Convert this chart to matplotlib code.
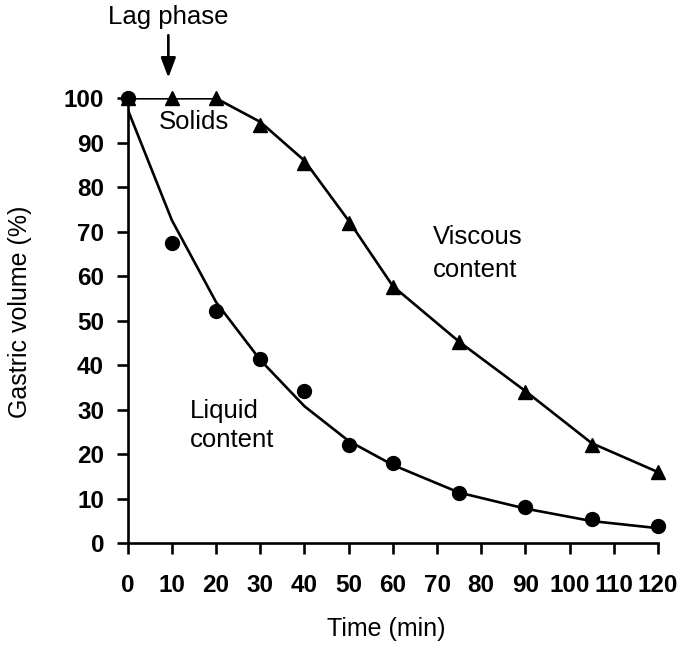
import matplotlib
matplotlib.use("Agg")
import matplotlib.pyplot as plt

plt.rcParams['font.family'] = ['Liberation Sans', 'DejaVu Sans']

# time points (min)
time_min = [0, 10, 20, 30, 40, 50, 60, 75, 90, 105, 120]

# measured gastric volume (%)
liquid_obs = [100, 67.4, 52.2, 41.4, 34.3, 22.0, 18.0, 11.3, 8.2, 5.4, 3.8]
viscous_obs = [100, 100, 100, 94.0, 85.4, 72.0, 57.5, 45.2, 34.0, 22.0, 16.0]

# fitted curves (%)
liquid_fit = [97.5, 72.6, 54.2, 41.2, 30.8, 23.0, 17.6, 11.4, 7.8, 5.0, 3.4]
viscous_fit = [100, 100, 100, 94.7, 86.0, 72.5, 57.8, 45.3, 34.2, 22.5, 16.0]

x_ticks = list(range(0, 121, 10))
y_ticks = list(range(0, 101, 10))

fig = plt.figure(figsize=(6.85, 6.52), dpi=100)
ax = fig.add_axes([0.1864, 0.1667, 0.7742, 0.6825])

ax.plot(time_min, viscous_fit, color="black", lw=1.9, zorder=2)
ax.plot(time_min, liquid_fit, color="black", lw=1.9, zorder=2)
ax.plot(time_min, viscous_obs, ls="none", marker="^", ms=9.5,
        color="black", clip_on=False, zorder=3)
ax.plot(time_min, liquid_obs, ls="none", marker="o", ms=10,
        color="black", clip_on=False, zorder=4)

ax.set_xlim(0, 120)
ax.set_ylim(0, 100)
ax.set_xticks(x_ticks)
ax.set_yticks(y_ticks)

for side in ["top", "right"]:
    ax.spines[side].set_visible(False)
for side in ["left", "bottom"]:
    ax.spines[side].set_linewidth(1.9)

ax.tick_params(axis="both", direction="out", length=8, width=1.9)
ax.tick_params(axis="x", pad=14)
ax.tick_params(axis="y", pad=9)
for lab in ax.get_xticklabels() + ax.get_yticklabels():
    lab.set_fontsize(17.5)
    lab.set_fontweight("bold")

fig.text(0.5642, 0.035, "Time (min)", ha="center", va="center", fontsize=18)
fig.text(0.029, 0.522, "Gastric volume (%)", ha="center", va="center",
         rotation=90, fontsize=18)

# annotations
ax.annotate("", xy=(9.2, 104.0), xytext=(9.2, 114.8),
            arrowprops=dict(arrowstyle="-|>,head_length=1.2,head_width=0.45",
                            color="black", lw=1.9),
            annotation_clip=False)
ax.text(9.2, 118.2, "Lag phase", ha="center", va="center", fontsize=18.5)
ax.text(7.0, 94.7, "Solids", ha="left", va="center", fontsize=18.5)
ax.text(69.0, 68.8, "Viscous", ha="left", va="center", fontsize=18.5)
ax.text(69.0, 61.5, "content", ha="left", va="center", fontsize=18.5)
ax.text(14.0, 29.8, "Liquid", ha="left", va="center", fontsize=18.5)
ax.text(14.0, 23.3, "content", ha="left", va="center", fontsize=18.5)

fig.savefig("out.png", dpi=100, facecolor="white")
